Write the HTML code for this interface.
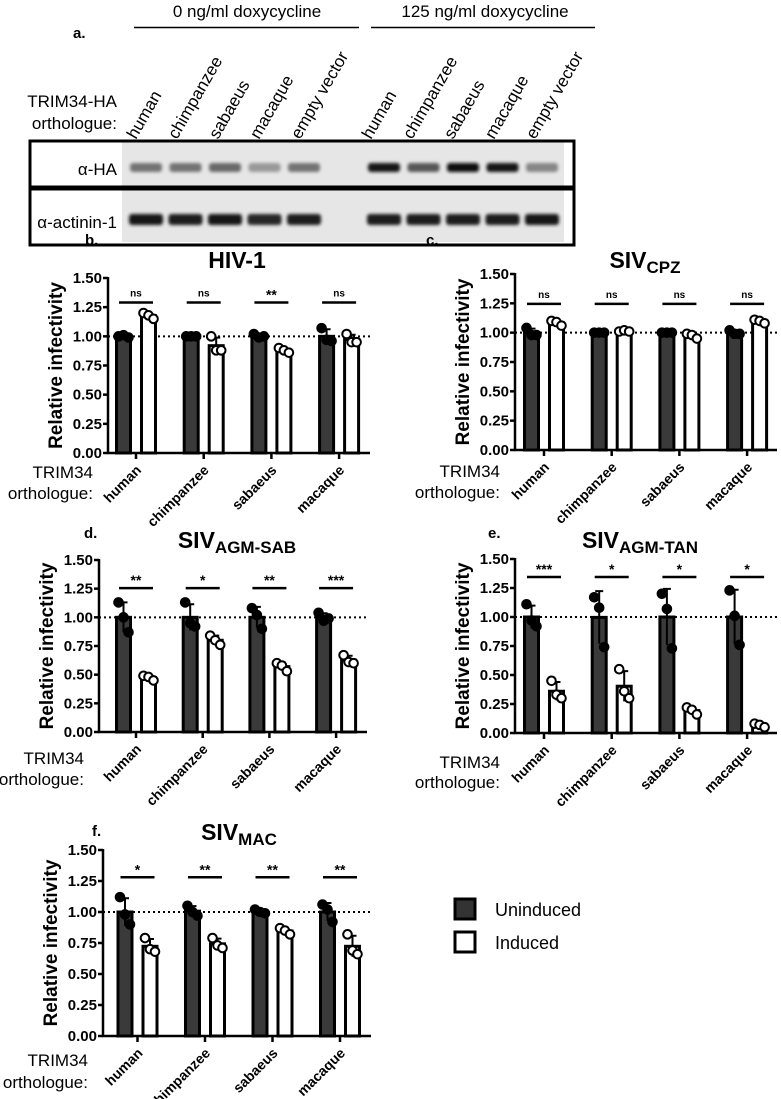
<!DOCTYPE html>
<html><head><meta charset="utf-8"><style>
html,body{margin:0;padding:0;background:#fff;}
svg{display:block;font-family:"Liberation Sans",Arial,sans-serif;}
</style></head><body>
<svg id="fig" width="781" height="1099" viewBox="0 0 781 1099" xmlns="http://www.w3.org/2000/svg">
<defs><filter id="blur" x="-20%" y="-50%" width="140%" height="200%"><feGaussianBlur stdDeviation="1.6"/></filter></defs>
<g>
  <text x="73" y="38" font-size="15" font-weight="bold">a.</text>
  <text x="247" y="17" font-size="17" text-anchor="middle">0 ng/ml doxycycline</text>
  <line x1="134" y1="27.5" x2="359" y2="27.5" stroke="#000" stroke-width="1.5"/>
  <text x="485" y="17" font-size="17" text-anchor="middle">125 ng/ml doxycycline</text>
  <line x1="371" y1="27.5" x2="595" y2="27.5" stroke="#000" stroke-width="1.5"/>
  <text x="117" y="107" font-size="17" text-anchor="end">TRIM34-HA</text>
  <text x="117" y="129" font-size="17" text-anchor="end">orthologue:</text>
  <g id="lanes"></g>
  <rect x="122" y="142" width="442" height="100" fill="#e6e6e6"/>
  <g id="bands" filter="url(#blur)"></g>
  <rect x="30" y="141" width="544" height="46" fill="none" stroke="#000" stroke-width="3"/>
  <rect x="30" y="189" width="544" height="56" fill="none" stroke="#000" stroke-width="3"/>
  <text x="117" y="175" font-size="17" text-anchor="end">α-HA</text>
  <text x="117" y="228" font-size="17" text-anchor="end">α-actinin-1</text>
</g>
<g id="charts"></g>
<g>
  <rect x="455" y="899" width="20" height="20" fill="#333" stroke="#000" stroke-width="3"/>
  <text x="495" y="916" font-size="18">Uninduced</text>
  <rect x="455" y="932" width="20" height="20" fill="#fff" stroke="#000" stroke-width="3"/>
  <text x="495" y="949" font-size="18">Induced</text>
</g>
</svg>
<script>
const NS="http://www.w3.org/2000/svg";
const categories=["human","chimpanzee","sabaeus","macaque"];
const yTicks=[0,0.25,0.5,0.75,1.0,1.25,1.5];
const yTickLabels=["0.00","0.25","0.50","0.75","1.00","1.25","1.50"];
const laneLabels=["human","chimpanzee","sabaeus","macaque","empty vector","human","chimpanzee","sabaeus","macaque","empty vector"];
const haIntensity=[0.45,0.45,0.5,0.25,0.45,0.95,0.6,1.0,0.95,0.35];
const actininIntensity=[0.95,0.9,0.95,0.85,0.9,0.9,0.9,0.9,0.9,0.95];

const hiv1Uninduced=[[1.0,1.01,0.99],[1.0,1.0,1.0],[1.02,0.99,1.0],[1.07,0.97,0.96]];
const hiv1Induced=[[1.2,1.18,1.15],[1.0,0.88,0.88],[0.9,0.88,0.86],[1.02,0.95,0.95]];
const hiv1Sig=["ns","ns","**","ns"];
const cpzUninduced=[[1.04,0.98,0.98],[1.0,1.0,1.0],[1.0,1.0,1.0],[1.02,0.99,0.99]];
const cpzInduced=[[1.10,1.09,1.06],[1.01,1.02,1.01],[0.99,0.98,0.95],[1.11,1.10,1.08]];
const cpzSig=["ns","ns","ns","ns"];
const sabUninduced=[[1.13,1.0,0.87],[1.13,0.95,0.92],[1.08,1.02,0.9],[1.04,0.97,0.99]];
const sabInduced=[[0.49,0.48,0.45],[0.84,0.8,0.76],[0.6,0.58,0.53],[0.67,0.61,0.6]];
const sabSig=["**","*","**","***"];
const tanUninduced=[[1.11,0.97,0.92],[1.17,1.08,0.74],[1.2,1.07,0.73],[1.23,1.01,0.76]];
const tanInduced=[[0.45,0.33,0.3],[0.55,0.36,0.3],[0.22,0.2,0.16],[0.08,0.07,0.05]];
const tanSig=["***","*","*","*"];
const macUninduced=[[1.12,0.98,0.9],[1.05,1.0,0.97],[1.02,1.0,0.99],[1.06,1.02,0.92]];
const macInduced=[[0.79,0.70,0.68],[0.79,0.73,0.71],[0.87,0.85,0.82],[0.82,0.69,0.66]];
const macSig=["*","**","**","**"];

function el(tag,attrs,parent){const e=document.createElementNS(NS,tag);for(const k in attrs)e.setAttribute(k,attrs[k]);parent.appendChild(e);return e;}

const lanesG=document.getElementById('lanes');
const bandsG=document.getElementById('bands');
laneLabels.forEach((lab,i)=>{
  const lx=(i<5?136+i*41:371+(i-5)*41);
  const t=el('text',{x:lx,y:140,'font-size':17,transform:`rotate(-60 ${lx} 140)`},lanesG);
  t.textContent=lab;
  
  
  const cx=(i<5?146+i*39.5:384+(i-5)*39.5);
  const g=Math.round(200-190*haIntensity[i]);
  const b1=el('rect',{x:cx-16,y:163,width:32,height:9,rx:3,fill:`rgb(${g},${g},${g})`},bandsG);
  
  
  const g2=Math.round(200-190*actininIntensity[i]);
  const b2=el('rect',{x:cx-17,y:214,width:34,height:11,rx:3,fill:`rgb(${g2},${g2},${g2})`},bandsG);
  
  
});

const charts=document.getElementById('charts');
function panel(cfg,unind,ind,sig){
  const g=el('g',{},charts);
  
  
  const y=v=>cfg.y0-(v/1.5)*(cfg.y0-cfg.y150);
  const tx=i=>cfg.t0+i*cfg.sp;
  const L=el('text',{x:cfg.lx,y:cfg.ly,'font-size':15,'font-weight':'bold'},g);L.textContent=cfg.id+'.';
  
  
  const T=el('text',{x:cfg.tx,y:cfg.ty,'font-size':23,'font-weight':'bold','text-anchor':'middle'},g);
  
  
  const s1=el('tspan',{},T);s1.textContent=cfg.title;
  if(cfg.sub){const s2=el('tspan',{'font-size':17,dy:5},T);s2.textContent=cfg.sub;}
  const yt=el('text',{x:0,y:0,'font-size':19,'font-weight':'bold','text-anchor':'middle',transform:`translate(${cfg.ax-46},${(cfg.y0+cfg.y150)/2}) rotate(-90)`},g);
  yt.textContent='Relative infectivity';
  
  
  const dl=el('line',{x1:cfg.ax,x2:cfg.xe,y1:y(1),y2:y(1),stroke:'#000','stroke-width':2,'stroke-dasharray':'2 3'},g);
  
  
  yTicks.forEach((v,i)=>{
    const tl=el('line',{x1:cfg.ax-5,x2:cfg.ax,y1:y(v),y2:y(v),stroke:'#000','stroke-width':2.5},g);
    
    
    const t=el('text',{x:cfg.ax-6,y:y(v)+5,'font-size':15,'font-weight':'bold','text-anchor':'end'},g);
    t.textContent=yTickLabels[i];
    
    
  });
  categories.forEach((c,i)=>{
    [[unind[i],-12.5,'#3a3a3a','uninduced'],[ind[i],12.5,'#fff','induced']].forEach(([pts,off,fill,kind])=>{
      const m=pts.reduce((a,b)=>a+b,0)/pts.length;
      const sd=Math.sqrt(pts.reduce((a,b)=>a+(b-m)*(b-m),0)/(pts.length-1));
      const cx=tx(i)+off;
      const r=el('rect',{x:cx-7,y:y(m),width:14,height:cfg.y0-y(m),fill:fill,stroke:'#000','stroke-width':3},g);
      
      
      if(sd>0.005){
        const e=el('path',{d:`M${cx} ${y(m-sd)}V${y(m+sd)}M${cx-4} ${y(m+sd)}H${cx+4}`,stroke:'#000','stroke-width':2,fill:'none'},g);
        
        
      }
      pts.forEach((p,k)=>{
        const d=el('circle',{cx:cx+(k-1)*5,cy:y(p),r:4.3,fill:kind==='uninduced'?'#000':'#fff',stroke:'#000','stroke-width':2},g);
        
        
      });
    });
    const ct=el('line',{x1:tx(i),x2:tx(i),y1:cfg.y0,y2:cfg.y0+6,stroke:'#000','stroke-width':2.5},g);
    
    
    const lx=tx(i)+6,ly=cfg.y0+18;
    const cl=el('text',{x:lx,y:ly,'font-size':14,'font-weight':'bold','text-anchor':'end',transform:`rotate(-45 ${lx} ${ly})`},g);
    cl.textContent=c;
    
    
    const sl=el('line',{x1:tx(i)-17,x2:tx(i)+17,y1:y(cfg.sigY),y2:y(cfg.sigY),stroke:'#000','stroke-width':2.5},g);
    
    
    const st=el('text',{x:tx(i),y:y(cfg.sigY)-(sig[i]==='ns'?6:3),'font-size':sig[i]==='ns'?10:14,'font-weight':'bold','text-anchor':'middle'},g);
    st.textContent=sig[i];
    
    
  });
  const ax=el('path',{d:`M${cfg.ax} ${cfg.y150-1}V${cfg.y0}H${cfg.xe}`,stroke:'#000','stroke-width':2.5,fill:'none'},g);
  
  
  const t1=el('text',{x:cfg.ax-15,y:cfg.y0+cfg.o1,'font-size':17,'text-anchor':'end'},g);t1.textContent='TRIM34';
  
  
  const t2=el('text',{x:cfg.ax-15,y:cfg.y0+cfg.o2,'font-size':17,'text-anchor':'end'},g);t2.textContent='orthologue:';
  
  
}
panel({id:'b',title:'HIV-1',ax:108,y0:453,y150:278,xe:370,t0:136,sp:67.7,lx:85,ly:245,tx:237,ty:268,sigY:1.29,o1:25,o2:46},hiv1Uninduced,hiv1Induced,hiv1Sig);
panel({id:'c',title:'SIV',sub:'CPZ',ax:515,y0:450,y150:274,xe:777,t0:544,sp:67.7,lx:426,ly:245,tx:645,ty:268,sigY:1.245,o1:27,o2:48},cpzUninduced,cpzInduced,cpzSig);
panel({id:'d',title:'SIV',sub:'AGM-SAB',ax:99,y0:732,y150:560,xe:367,t0:136,sp:66.7,lx:84,ly:538,tx:237,ty:548,sigY:1.255,o1:32,o2:53},sabUninduced,sabInduced,sabSig);
panel({id:'e',title:'SIV',sub:'AGM-TAN',ax:515,y0:733,y150:559,xe:777,t0:544,sp:67.7,lx:488,ly:538,tx:640,ty:548,sigY:1.345,o1:35,o2:55},tanUninduced,tanInduced,tanSig);
panel({id:'f',title:'SIV',sub:'MAC',ax:103,y0:1036,y150:850,xe:371,t0:137.5,sp:67.5,lx:92,ly:836,tx:239,ty:840,sigY:1.28,o1:30,o2:52},macUninduced,macInduced,macSig);
</script>
</body></html>
